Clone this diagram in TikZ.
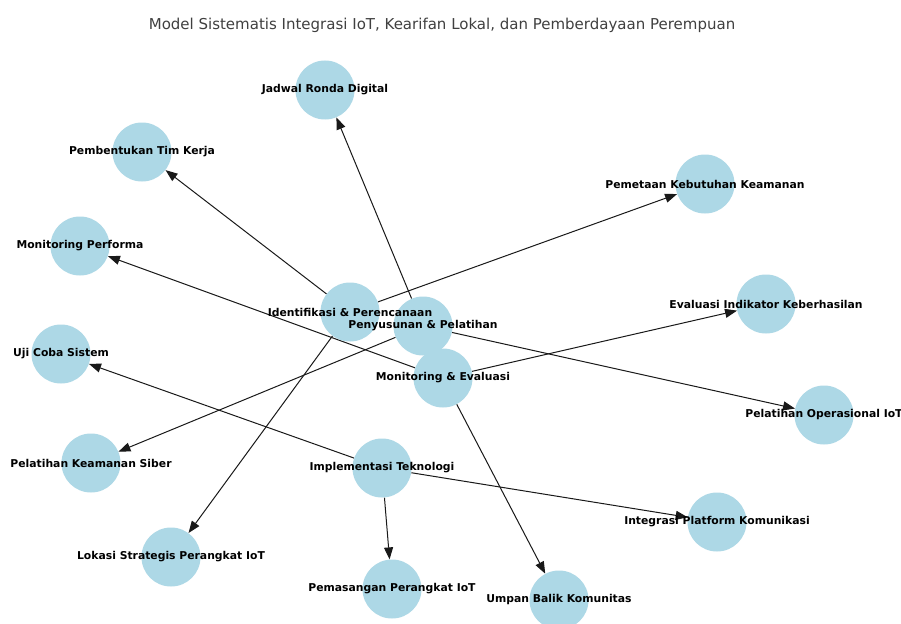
\documentclass[tikz,border=0pt]{standalone}
\usepackage{fontspec}
\setmainfont{DejaVu Sans}
\usetikzlibrary{arrows.meta,positioning}
\pgfdeclarelayer{bg}
\pgfdeclarelayer{edges}
\pgfsetlayers{bg,edges,main}
\definecolor{nodeblue}{HTML}{ADD8E6}
\tikzset{
  topic/.style={circle,fill=nodeblue,minimum size=59pt,inner sep=0pt},
  tag/.style={font=\bfseries\fontsize{10.8}{12}\selectfont,text=black,inner sep=0pt},
  link/.style={-{Triangle[length=12pt,width=9pt]},line width=1pt,black!90},
}

\begin{document}
\begin{tikzpicture}[x=1pt,y=-1pt]
\clip (0,0) rectangle (901,623);
\begin{pgfonlayer}{bg}
\fill[white] (0,0) rectangle (901,623);
\end{pgfonlayer}

\node[text=black!75,font=\fontsize{15}{18}\selectfont] (title) at (442,25)
  {Model Sistematis Integrasi IoT, Kearifan Lokal, dan Pemberdayaan Perempuan};

% tahap utama
\node[topic] (ident) at (350,312) {};
\node[topic] (susun) at (423,326) {};
\node[topic] (monev) at (443,378) {};
\node[topic] (impl) at (382,468) {};

% kegiatan
\node[topic] (jadwal) at (325,90) {};
\node[topic] (timkerja) at (142,152) {};
\node[topic] (pemetaan) at (705,184) {};
\node[topic] (monperf) at (80,246) {};
\node[topic] (evalind) at (766,304) {};
\node[topic] (ujicoba) at (61,354) {};
\node[topic] (pelops) at (824,415) {};
\node[topic] (pelsiber) at (91,463) {};
\node[topic] (integrasi) at (717,522) {};
\node[topic] (lokasi) at (171,557) {};
\node[topic] (pasang) at (392,589) {};
\node[topic] (umpan) at (559,600) {};

\begin{pgfonlayer}{edges}
\draw[link] (ident) -- (timkerja);
\draw[link] (ident) -- (pemetaan);
\draw[link] (ident) -- (lokasi);
\draw[link] (susun) -- (jadwal);
\draw[link] (susun) -- (pelsiber);
\draw[link] (susun) -- (pelops);
\draw[link] (monev) -- (monperf);
\draw[link] (monev) -- (evalind);
\draw[link] (monev) -- (umpan);
\draw[link] (impl) -- (ujicoba);
\draw[link] (impl) -- (integrasi);
\draw[link] (impl) -- (pasang);
\end{pgfonlayer}

% label di atas semua lingkaran
\foreach \n/\t in {ident/{Identifikasi \& Perencanaan}, susun/{Penyusunan \& Pelatihan},
    monev/{Monitoring \& Evaluasi}, impl/{Implementasi Teknologi},
    jadwal/{Jadwal Ronda Digital}, timkerja/{Pembentukan Tim Kerja},
    pemetaan/{Pemetaan Kebutuhan Keamanan}, monperf/{Monitoring Performa},
    evalind/{Evaluasi Indikator Keberhasilan}, ujicoba/{Uji Coba Sistem},
    pelops/{Pelatihan Operasional IoT}, pelsiber/{Pelatihan Keamanan Siber},
    integrasi/{Integrasi Platform Komunikasi}, lokasi/{Lokasi Strategis Perangkat IoT},
    pasang/{Pemasangan Perangkat IoT}, umpan/{Umpan Balik Komunitas}}
  \node[tag] (\n-txt) at (\n) {\t};
\end{tikzpicture}
\end{document}
